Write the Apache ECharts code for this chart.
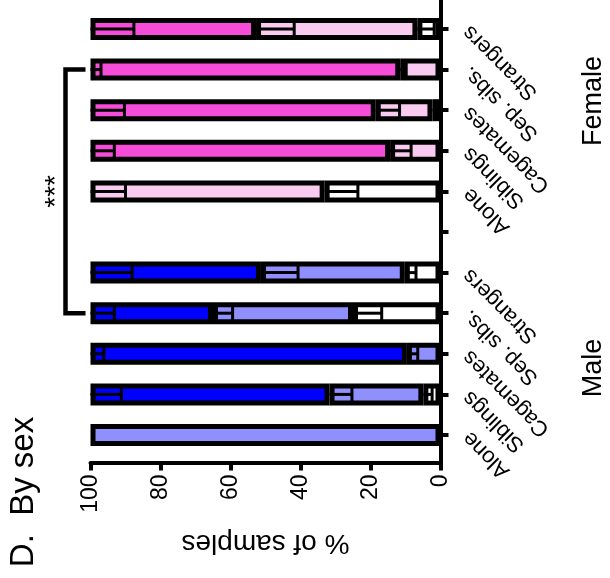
<!DOCTYPE html>
<html><head><meta charset="utf-8">
<script src="https://cdn.jsdelivr.net/npm/echarts@6/dist/echarts.min.js"></script>
<style>html,body{margin:0;padding:0;background:#fff}#c{width:610px;height:578px}</style>
</head><body><div id="c"></div>
<script>
// categories listed bottom -> top (Male block, gap, Female block)
const categories = ['Alone','Siblings','Cagemates','Sep. sibs.','Strangers','','Alone','Siblings','Cagemates','Sep. sibs.','Strangers'];
const sexOfCategory = ['M','M','M','M','M','','F','F','F','F','F'];
const groupLabels = ['Male','Female'];
const titleText = 'D.  By sex';
const axisTitle = '% of samples';
// stacked segments (from 0 upward): white, light, dark
const whiteSeg = [0, 4.9, 0, 25.0, 10.2, null, 33.1, 0, 2.3, 0, 6.6];
const lightSeg = [100, 26.8, 9.6, 40.0, 41.1, null, 66.9, 14.4, 16.2, 11.5, 46.1];
const darkSeg  = [0, 68.3, 90.4, 35.0, 48.7, null, 0, 85.6, 81.5, 88.5, 47.3];
// error (drawn downward from each segment's top)
const whiteErr = [0, 2.5, 0, 8.2, 3.2, null, 9.5, 0, 1.4, 0, 4.8];
const lightErr = [0, 6.4, 3.1, 5.6, 10.6, null, 10.0, 6.0, 6.8, 1.7, 10.9];
const darkErr  = [0, 8.8, 3.8, 6.8, 11.9, null, 0, 6.8, 9.7, 3.0, 12.4];
const valueTicks = [0, 20, 40, 60, 80, 100];
const bracket = [[9, 3, '***']];

const FONT = "'Liberation Sans', Arial, sans-serif";
const COLORS = { M: { dark: '#0000FF', light: '#8F8FFD' }, F: { dark: '#F64DD8', light: '#F9CBF0' } };

const errData = [];
categories.forEach((c, i) => {
  if (whiteSeg[i] == null) return;
  const t1 = whiteSeg[i], t2 = t1 + lightSeg[i], t3 = t2 + darkSeg[i];
  [[t1, whiteErr[i]], [t2, lightErr[i]], [t3, darkErr[i]]].forEach(([t, e]) => {
    if (e > 0) errData.push([i, t, t - e]);
  });
});
const labelData = [];
categories.forEach((c, i) => { if (c) labelData.push([i, c]); });
const hideZero = (arr) => arr.map(v => (v === 0 ? null : v));

const chart = echarts.init(document.getElementById('c'), null, { renderer: 'canvas' });
const segStyle = (kind) => ({
  color: (p) => {
    if (kind === 'white') return '#FFFFFF';
    const s = COLORS[sexOfCategory[p.dataIndex]];
    return s ? s[kind] : '#FFFFFF';
  },
  borderColor: '#000', borderWidth: 5
});
const gridLeft = 90.5, gridRight = 169.5;
chart.setOption({
  animation: false,
  grid: [
    { left: gridLeft, right: gridRight, top: 8.7, height: 446.6, outerBoundsMode: 'none', containLabel: false },
    { left: gridLeft, right: gridRight, top: 0, height: 462.5, outerBoundsMode: 'none', containLabel: false }
  ],
  xAxis: [
    { gridIndex: 0, type: 'value', min: 0, max: 100, inverse: true, show: false },
    { gridIndex: 1, type: 'value', min: 0, max: 100, interval: 20, inverse: true, position: 'bottom',
      axisLine: { show: true, lineStyle: { color: '#000', width: 4 } },
      axisTick: { show: true, length: 8, lineStyle: { color: '#000', width: 4 } },
      splitLine: { show: false },
      axisLabel: { rotate: 90, fontSize: 23, color: '#000', fontFamily: FONT, margin: 12,
        customValues: valueTicks },
      name: axisTitle, nameLocation: 'middle', nameRotate: 180, nameGap: 66, nameMoveOverlap: false,
      nameTextStyle: { fontSize: 28, color: '#000', fontFamily: FONT } }
  ],
  yAxis: [
    { gridIndex: 0, type: 'category', data: categories, position: 'right',
      axisLine: { show: false },
      axisTick: { show: true, alignWithLabel: true, length: 8, interval: 0, lineStyle: { color: '#000', width: 4 } },
      axisLabel: { show: false },
      splitLine: { show: false } },
    { gridIndex: 1, type: 'value', min: 0, max: 1, position: 'right',
      axisLine: { show: true, lineStyle: { color: '#000', width: 4 } },
      axisTick: { show: false }, axisLabel: { show: false }, splitLine: { show: false } }
  ],
  series: [
    { type: 'bar', stack: 's', xAxisIndex: 0, yAxisIndex: 0, barWidth: 22, data: hideZero(whiteSeg), itemStyle: segStyle('white') },
    { type: 'bar', stack: 's', xAxisIndex: 0, yAxisIndex: 0, barWidth: 22, data: hideZero(lightSeg), itemStyle: segStyle('light') },
    { type: 'bar', stack: 's', xAxisIndex: 0, yAxisIndex: 0, barWidth: 22, data: hideZero(darkSeg), itemStyle: segStyle('dark') },
    { type: 'custom', xAxisIndex: 0, yAxisIndex: 0, data: errData, encode: { x: [1, 2], y: 0 }, z: 5, clip: false,
      renderItem: (params, api) => {
        const cat = api.value(0), top = api.value(1), bot = api.value(2);
        const p1 = api.coord([top, cat]), p2 = api.coord([bot, cat]);
        const h = 7;
        return { type: 'group', children: [
          { type: 'line', shape: { x1: p1[0], y1: p1[1], x2: p2[0], y2: p2[1] }, style: { stroke: '#000', lineWidth: 3 } },
          { type: 'line', shape: { x1: p2[0], y1: p2[1] - h, x2: p2[0], y2: p2[1] + h }, style: { stroke: '#000', lineWidth: 3 } }
        ] };
      } },
    { type: 'custom', xAxisIndex: 0, yAxisIndex: 0, data: bracket, encode: { y: [0, 1] }, z: 5, clip: false,
      renderItem: (params, api) => {
        const a = api.value(0), b = api.value(1);
        const pA = api.coord([100, a]), pB = api.coord([100, b]);
        const arm = pA[0] - 5, vx = pA[0] - 25;
        return { type: 'group', children: [
          { type: 'polyline', shape: { points: [[arm, pA[1]], [vx, pA[1]], [vx, pB[1]], [arm, pB[1]]] },
            style: { stroke: '#000', lineWidth: 4.5, fill: null } },
          { type: 'text', x: vx - 9, y: (pA[1] + pB[1]) / 2, rotation: Math.PI / 2,
            style: { text: bracket[params.dataIndex][2], fontSize: 28, fontFamily: FONT, fill: '#000', align: 'center', verticalAlign: 'middle' } }
        ] };
      } },
    { type: 'custom', xAxisIndex: 0, yAxisIndex: 0, data: labelData, encode: { y: 0 }, z: 5, clip: false,
      renderItem: (params, api) => {
        const cat = api.value(0);
        const p = api.coord([0, cat]);
        return { type: 'text', x: p[0] + 26, y: p[1], rotation: Math.PI * 3 / 4,
          style: { text: labelData[params.dataIndex][1], fontSize: 22, fontFamily: FONT, fill: '#000', align: 'right', verticalAlign: 'middle' } };
      } }
  ],
  graphic: [
    { type: 'text', x: 24, y: 492, rotation: Math.PI / 2,
      style: { text: titleText, fontSize: 33, fontFamily: FONT, fill: '#000', align: 'center', verticalAlign: 'middle' } },
    { type: 'text', x: 594, y: 368, rotation: Math.PI / 2,
      style: { text: groupLabels[0], fontSize: 27, fontFamily: FONT, fill: '#000', align: 'center', verticalAlign: 'middle' } },
    { type: 'text', x: 594, y: 101, rotation: Math.PI / 2,
      style: { text: groupLabels[1], fontSize: 27, fontFamily: FONT, fill: '#000', align: 'center', verticalAlign: 'middle' } }
  ]
});
</script></body></html>
